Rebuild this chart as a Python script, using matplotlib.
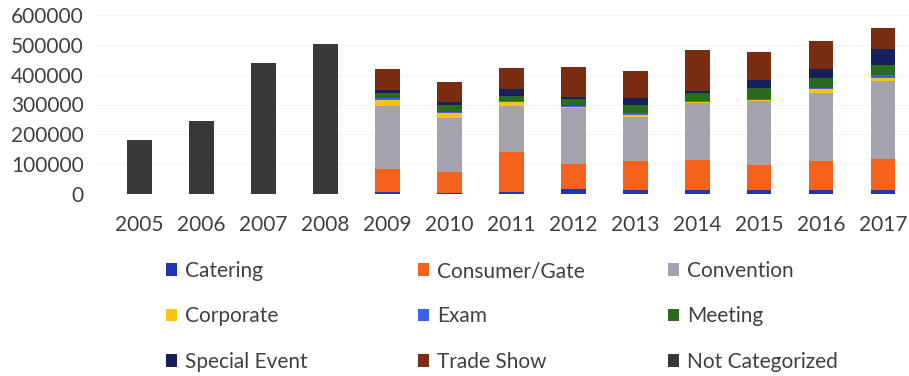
import matplotlib
matplotlib.use("Agg")
import matplotlib.pyplot as plt
import numpy as np
from matplotlib.patches import Patch

years = ["2005", "2006", "2007", "2008", "2009", "2010", "2011",
         "2012", "2013", "2014", "2015", "2016", "2017"]

# 2005-2008 only have totals, 2009-2017 are split by event type
not_categorized = [180000, 245000, 440000, 502000, 0, 0, 0, 0, 0, 0, 0, 0, 0]
catering = [0, 0, 0, 0, 7000, 4000, 7000, 18000, 13000, 13000, 13000, 13000, 13000]
consumer_gate = [0, 0, 0, 0, 77000, 70000, 133000, 81000, 97000, 100000, 83000, 97000, 105000]
convention = [0, 0, 0, 0, 212000, 181000, 155000, 190000, 148000, 191000, 215000, 227000, 262000]
corporate = [0, 0, 0, 0, 18000, 18000, 15000, 3000, 8000, 4000, 4000, 14000, 10000]
exam = [0, 0, 0, 0, 8000, 2000, 2000, 4000, 4000, 3000, 4000, 5000, 8000]
meeting = [0, 0, 0, 0, 17000, 24000, 18000, 22000, 28000, 29000, 35000, 34000, 33000]
special_event = [0, 0, 0, 0, 11000, 11000, 23000, 7000, 25000, 5000, 27000, 30000, 56000]
trade_show = [0, 0, 0, 0, 69000, 64000, 69000, 101000, 89000, 138000, 95000, 93000, 71000]

series = [
    ("Catering", catering, "#1f36b4"),
    ("Consumer/Gate", consumer_gate, "#f4621c"),
    ("Convention", convention, "#a3a3ad"),
    ("Corporate", corporate, "#ffc20e"),
    ("Exam", exam, "#3a62e8"),
    ("Meeting", meeting, "#2a6a1e"),
    ("Special Event", special_event, "#16215c"),
    ("Trade Show", trade_show, "#7b2d12"),
    ("Not Categorized", not_categorized, "#383838"),
]

plt.rcParams["font.family"] = ["Lato", "DejaVu Sans"]
text_color = "#404040"

W, H = 909, 376
fig = plt.figure(figsize=(W / 100, H / 100), dpi=100)
ax_left, ax_right = 95, 909
ax_bottom, ax_top = 194, 15
ax = fig.add_axes([ax_left / W, 1 - ax_bottom / H,
                   (ax_right - ax_left) / W, (ax_bottom - ax_top) / H])

x = np.arange(len(years))
step = 61.96
bottom = np.zeros(len(years))
for name, vals, color in series:
    vals = np.array(vals, dtype=float)
    ax.bar(x, vals, width=0.4, bottom=bottom, color=color, zorder=2)
    bottom += vals

ax.set_xlim(-(139.5 - ax_left) / step, (ax_right - 139.5) / step)
ax.set_ylim(0, 600000)
ax.set_yticks(np.arange(0, 600001, 100000))
ax.yaxis.grid(True, color="#f4f4f4", linewidth=0.8, zorder=0)
ax.set_xticks(x)
ax.set_xticklabels(years)
ax.tick_params(axis="both", length=0, labelsize=15, colors=text_color)
ax.tick_params(axis="y", pad=8)
ax.tick_params(axis="x", pad=15)
for s in ax.spines.values():
    s.set_visible(False)

# three legend columns laid out row-wise
col_x = [166, 418, 668]
for c in range(3):
    handles = [Patch(facecolor=series[c + 3 * r][2], label=series[c + 3 * r][0])
               for r in range(3)]
    fig.legend(handles=handles, loc="upper left",
               bbox_to_anchor=(col_x[c] / W, 1 - 261 / H),
               frameon=False, fontsize=15, labelcolor=text_color,
               handlelength=0.55, handleheight=0.55, handletextpad=0.35,
               labelspacing=1.22, borderpad=0, borderaxespad=0)

fig.savefig("out.png", dpi=100, facecolor="white")
